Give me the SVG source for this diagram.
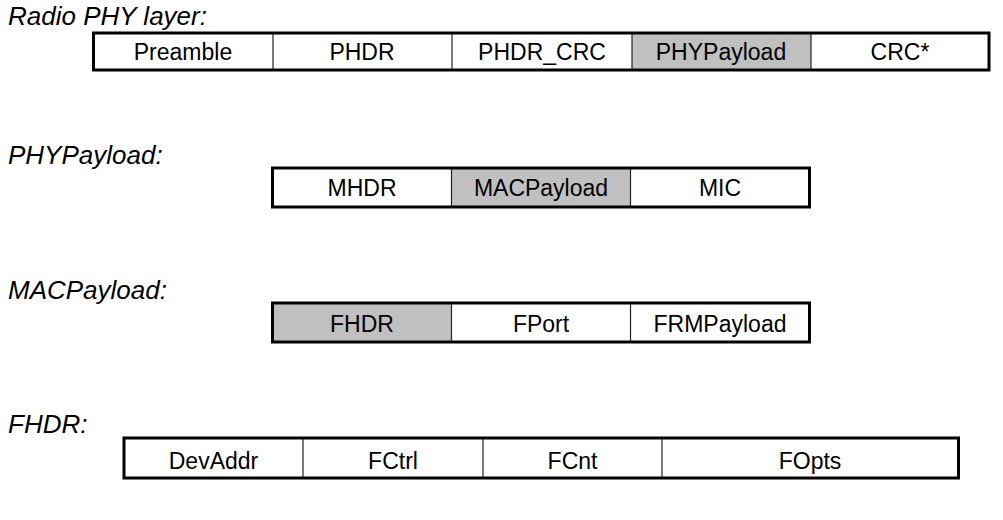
<svg xmlns="http://www.w3.org/2000/svg" width="1003" height="520" viewBox="0 0 1003 520">
  <style>
    .title { font-family: "Liberation Sans", Arial, sans-serif; font-style: italic; font-size: 26px; fill: #000; }
    .cell { font-family: "Liberation Sans", Arial, sans-serif; font-size: 23px; fill: #000; text-anchor: middle; }
    .frame { fill: none; stroke: #000; stroke-width: 3; }
    .div { stroke: #222; stroke-width: 1.2; }
    .hl { fill: #c0c0c0; }
  </style>

  <!-- Radio PHY layer -->
  <g id="radio-phy">
    <text class="title" x="8" y="25">Radio PHY layer:</text>
    <rect class="hl" x="632" y="33" width="179" height="37"/>
    <line class="div" x1="273" y1="33" x2="273" y2="70"/>
    <line class="div" x1="452" y1="33" x2="452" y2="70"/>
    <line class="div" x1="632" y1="33" x2="632" y2="70"/>
    <line class="div" x1="811" y1="33" x2="811" y2="70"/>
    <rect class="frame" x="93.5" y="33" width="895.5" height="37"/>
    <text class="cell" x="183" y="60">Preamble</text>
    <text class="cell" x="362" y="60">PHDR</text>
    <text class="cell" x="542" y="60">PHDR_CRC</text>
    <text class="cell" x="721" y="60">PHYPayload</text>
    <text class="cell" x="900" y="60">CRC*</text>
  </g>

  <!-- PHYPayload -->
  <g id="phypayload">
    <text class="title" x="8" y="164">PHYPayload:</text>
    <rect class="hl" x="451.5" y="168" width="179" height="39"/>
    <line class="div" x1="451.5" y1="168" x2="451.5" y2="207"/>
    <line class="div" x1="630.5" y1="168" x2="630.5" y2="207"/>
    <rect class="frame" x="272.5" y="168" width="537" height="39"/>
    <text class="cell" x="362" y="196">MHDR</text>
    <text class="cell" x="541" y="196">MACPayload</text>
    <text class="cell" x="720" y="196">MIC</text>
  </g>

  <!-- MACPayload -->
  <g id="macpayload">
    <text class="title" x="8" y="299">MACPayload:</text>
    <rect class="hl" x="272.5" y="303" width="179" height="39"/>
    <line class="div" x1="451.5" y1="303" x2="451.5" y2="342"/>
    <line class="div" x1="630.5" y1="303" x2="630.5" y2="342"/>
    <rect class="frame" x="272.5" y="303" width="537" height="39"/>
    <text class="cell" x="362" y="332">FHDR</text>
    <text class="cell" x="541" y="332">FPort</text>
    <text class="cell" x="720" y="332">FRMPayload</text>
  </g>

  <!-- FHDR -->
  <g id="fhdr">
    <text class="title" x="8" y="433">FHDR:</text>
    <line class="div" x1="303" y1="438" x2="303" y2="478"/>
    <line class="div" x1="483" y1="438" x2="483" y2="478"/>
    <line class="div" x1="662" y1="438" x2="662" y2="478"/>
    <rect class="frame" x="124" y="438" width="834.5" height="40"/>
    <text class="cell" x="213.5" y="469">DevAddr</text>
    <text class="cell" x="393" y="469">FCtrl</text>
    <text class="cell" x="572.5" y="469">FCnt</text>
    <text class="cell" x="810" y="469">FOpts</text>
  </g>

  <!-- no connectors in this figure -->
  <g id="connectors"/>
</svg>
